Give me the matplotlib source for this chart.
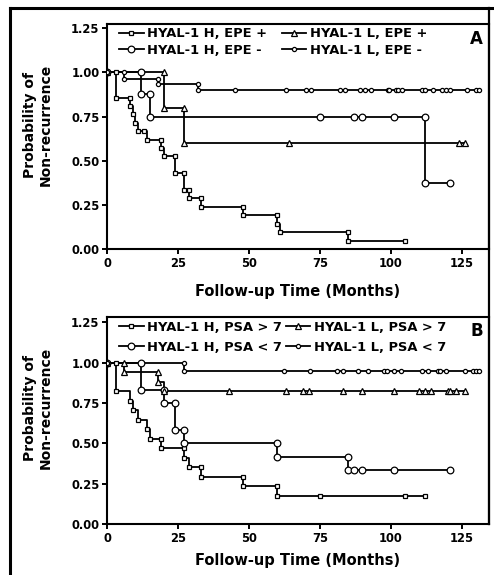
import matplotlib
matplotlib.use('Agg')
import matplotlib.pyplot as plt
from matplotlib.lines import Line2D

# ---- panel A : HYAL-1 vs EPE ----
a_labels = ['HYAL-1 H, EPE +', 'HYAL-1 H, EPE -', 'HYAL-1 L, EPE +', 'HYAL-1 L, EPE -']

a_sq_t = [0, 3, 3, 8, 8, 9, 10, 11, 13, 14, 19, 19, 20, 24, 24, 27, 27, 29, 29, 33,
          33, 48, 48, 60, 60, 61, 85, 85, 105]
a_sq_s = [1, 1, .857, .857, .810, .762, .714, .667, .667, .619, .619, .571, .524, .524, .429, .429, .333, .333, .286, .286,
          .238, .238, .190, .190, .143, .095, .095, .048, .048]

a_ci_t = [0, 12, 12, 15, 15, 75, 87, 90, 101, 112, 112, 121]
a_ci_s = [1, 1, .875, .875, .75, .75, .75, .75, .75, .75, .375, .375]

a_tr_t = [0, 20, 20, 27, 27, 64, 124, 126]
a_tr_s = [1, 1, .8, .8, .6, .6, .6, .6]

a_di_t = [0, 6, 6, 18, 18, 32, 32, 45, 63, 70, 72, 82, 84, 89, 91, 93, 99, 99.5, 102, 102.5,
          104, 111, 112, 115, 118, 119.5, 121, 127, 130, 131]
a_di_s = [1, 1, .962, .962, .935, .935, .90, .90, .90, .90, .90, .90, .90, .90, .90, .90, .90, .90, .90, .90,
          .90, .90, .90, .90, .90, .90, .90, .90, .90, .90]

# ---- panel B : HYAL-1 vs PSA ----
b_labels = ['HYAL-1 H, PSA > 7', 'HYAL-1 H, PSA < 7', 'HYAL-1 L, PSA > 7', 'HYAL-1 L, PSA < 7']

b_sq_t = [0, 3, 3, 8, 9, 11, 14, 15, 19, 19, 27, 27, 29, 33, 33, 48, 48, 60, 60, 75, 105, 112]
b_sq_s = [1, 1, .824, .765, .706, .647, .588, .529, .529, .471, .471, .412, .353, .353, .294, .294, .235, .235, .176, .176, .176, .176]

b_ci_t = [0, 12, 12, 20, 20, 24, 24, 27, 27, 60, 60, 85, 85, 87, 90, 101, 121]
b_ci_s = [1, 1, .833, .833, .75, .75, .583, .583, .5, .5, .417, .417, .333, .333, .333, .333, .333]

b_tr_t = [0, 6, 6, 18, 18, 20, 43, 63, 69, 71, 83, 90, 101, 110, 112, 114, 120, 121, 123, 126]
b_tr_s = [1, 1, .941, .941, .882, .824, .824, .824, .824, .824, .824, .824, .824, .824, .824, .824, .824, .824, .824, .824]

b_di_t = [0, 27, 27, 62.5, 71.5, 81, 83, 88.5, 92, 97.5, 98.5, 101, 103.5, 111, 113, 116.5, 117.5, 119.5, 126, 129, 130, 131]
b_di_s = [1, 1, .95, .95, .95, .95, .95, .95, .95, .95, .95, .95, .95, .95, .95, .95, .95, .95, .95, .95, .95, .95]

xticks = [0, 25, 50, 75, 100, 125]
yticks = [0.0, 0.25, 0.5, 0.75, 1.0, 1.25]

# marker style per group: square, circle, triangle, diamond
styles = [('s', 3.3), ('o', 4.8), ('^', 3.8), ('o', 3.0)]


def km_panel(ax, series, labels, letter, ytop, colsp, rowsp, legy):
    for (t, s), (mk, ms) in zip(series, styles):
        ax.step(t, s, where='post', color='black', lw=1.3, zorder=2)
        ax.plot(t, s, ls='none', marker=mk, ms=ms, mfc='white', mec='black', mew=0.9, zorder=3)
    handles = []
    for (mk, ms), lab in zip(styles, labels):
        handles.append(Line2D([], [], color='black', lw=1.3, marker=mk, ms=ms, mfc='white', mec='black', mew=0.9, label=lab))
    ax.legend(handles=handles, ncol=2, loc='upper left', bbox_to_anchor=(0.012, legy), frameon=False,
              handlelength=1.85, handletextpad=0.3, columnspacing=colsp, labelspacing=rowsp, borderaxespad=0.2,
              prop={'weight': 'bold', 'size': 9.4})
    ax.text(0.985, 0.975, letter, transform=ax.transAxes, ha='right', va='top', fontsize=12, fontweight='bold')
    ax.set_xlim(0, 134.6)
    ax.set_ylim(0, ytop)
    ax.set_xticks(xticks)
    ax.set_yticks(yticks)
    ax.set_xticklabels([str(v) for v in xticks])
    ax.set_yticklabels(['%.2f' % v for v in yticks])
    for lab in ax.get_xticklabels() + ax.get_yticklabels():
        lab.set_fontweight('bold')
        lab.set_fontsize(8.3)
    ax.tick_params(direction='out', length=3.5, width=1.4, pad=2)
    for sp in ax.spines.values():
        sp.set_linewidth(1.5)


fig = plt.figure(figsize=(4.94, 5.75), dpi=100)
W, H = 494.0, 575.0

axA = fig.add_axes([107 / W, 1 - 249 / H, 382 / W, 225 / H])
km_panel(axA, [(a_sq_t, a_sq_s), (a_ci_t, a_ci_s), (a_tr_t, a_tr_s), (a_di_t, a_di_s)], a_labels, 'A', 1.274,
         1.1, 0.28, 1.02)

axB = fig.add_axes([107 / W, 1 - 524 / H, 382 / W, 207 / H])
km_panel(axB, [(b_sq_t, b_sq_s), (b_ci_t, b_ci_s), (b_tr_t, b_tr_s), (b_di_t, b_di_s)], b_labels, 'B', 1.283,
         0.25, 0.55, 1.02)

for yc_lab, yc_x in [(125, 291), (408, 560)]:
    fig.text(38 / W, 1 - yc_lab / H, 'Probability of\nNon-recurrence', rotation=90, ha='center', va='center',
             fontsize=10, fontweight='bold', linespacing=1.2)
    fig.text(298 / W, 1 - yc_x / H, 'Follow-up Time (Months)', ha='center', va='center',
             fontsize=10.5, fontweight='bold')

# outer frame of the scanned figure
fig.add_artist(Line2D([10 / W, 10 / W], [0, 1 - 8 / H], color='black', lw=2.2, transform=fig.transFigure))
fig.add_artist(Line2D([10 / W, 1], [1 - 8 / H, 1 - 8 / H], color='black', lw=2.2, transform=fig.transFigure))
fig.add_artist(Line2D([489 / W, 489 / W], [1 - 524 / H, 1 - 8 / H], color='black', lw=1.6, transform=fig.transFigure))

fig.savefig('out.png', dpi=100, facecolor='white')
